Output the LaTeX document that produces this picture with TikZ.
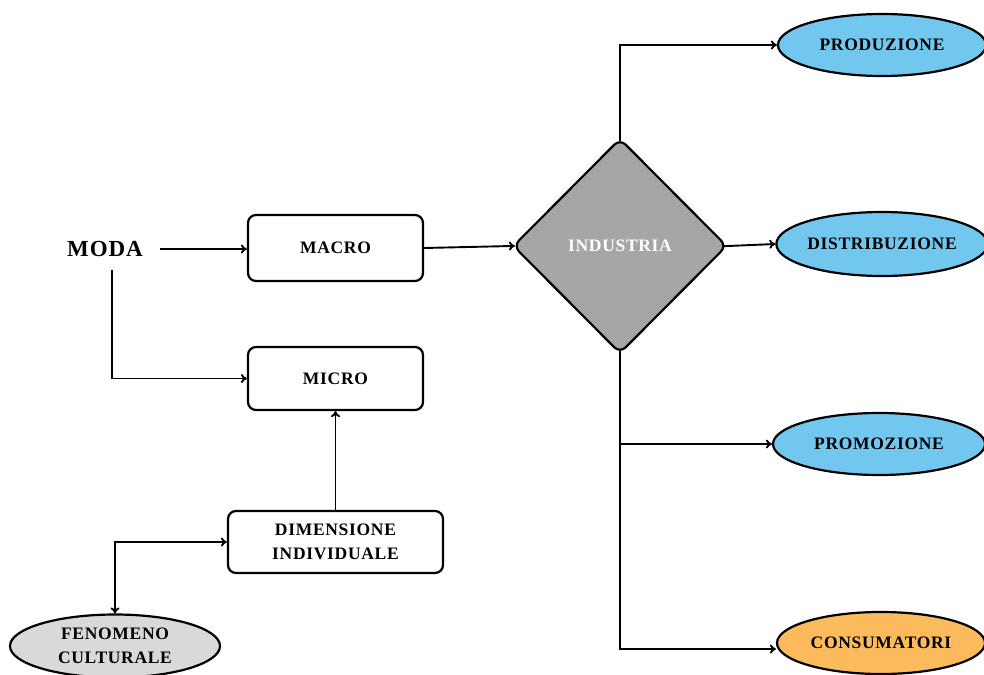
\documentclass[tikz,border=0pt]{standalone}
\usepackage{fontspec}
\setmainfont{Liberation Serif}[LetterSpace=4]
\usetikzlibrary{shapes.geometric,arrows.meta}
\definecolor{skyb}{HTML}{72C7EE}
\definecolor{orng}{HTML}{FBBA5C}
\definecolor{dgray}{HTML}{A6A6A6}
\definecolor{lgray}{HTML}{D9D9D9}
\begin{document}
\begin{tikzpicture}[x=1pt,y=-1pt,
  every node/.style={font=\fontsize{17.5}{24}\selectfont\bfseries, align=center},
  boxn/.style={draw, line width=2.2pt, rounded corners=8pt, inner sep=0pt},
  ell/.style={draw, line width=2.2pt, ellipse, inner sep=0pt},
  arr/.style={line width=1.9pt, -{To[length=6pt,width=9pt]}},
  darr/.style={line width=1.9pt, {To[length=6pt,width=9pt]}-{To[length=6pt,width=9pt]}}]
\useasboundingbox (0,0) rectangle (984,674);
\node[font=\fontsize{23}{26}\selectfont\bfseries] (moda) at (105,249) {MODA};
\node[boxn, minimum width=175pt, minimum height=66pt] (macro) at (335.5,248) {MACRO};
\node[boxn, minimum width=175pt, minimum height=63pt] (micro) at (335.5,378.5) {MICRO};
\node[boxn, minimum width=215pt, minimum height=62pt] (dim) at (335.5,542) {DIMENSIONE\\INDIVIDUALE};
\node[ell, fill=lgray, minimum width=210pt, minimum height=63pt] (fen) at (115,646) {FENOMENO\\CULTURALE};
\node[diamond, draw, line width=2.2pt, rounded corners=8pt, fill=dgray, text=white, inner sep=0pt, minimum width=214pt, minimum height=215pt] (ind) at (620,246) {INDUSTRIA};
\node[ell, fill=skyb, minimum width=208pt, minimum height=62pt] (prod) at (882,45) {PRODUZIONE};
\node[ell, fill=skyb, minimum width=208pt, minimum height=64pt] (distr) at (882,244) {DISTRIBUZIONE};
\node[ell, fill=skyb, minimum width=212pt, minimum height=62pt] (prom) at (879,444) {PROMOZIONE};
\node[ell, fill=orng, minimum width=208pt, minimum height=62pt] (cons) at (881,643) {CONSUMATORI};
\draw[arr] ([xshift=14pt]moda.east) -- (macro.west |- moda.east);
\draw[arr] ([xshift=7pt,yshift=-10pt]moda.south) |- (micro.west);
\draw[arr, shorten >=-3pt] (macro.east) -- (ind.west);
\draw[arr, shorten <=-4pt] (ind.north) |- (prod.west);
\draw[arr, shorten <=-4pt] (ind.east) -- (distr.west);
\draw[arr, shorten <=-4pt] (ind.south) |- (prom.west);
\draw[arr, shorten <=-4pt] (ind.south) |- ([yshift=-6pt]cons.west);
\draw[arr] (dim.north) -- (micro.south);
\draw[darr] (dim.west) -| (fen.north);
\end{tikzpicture}
\end{document}
